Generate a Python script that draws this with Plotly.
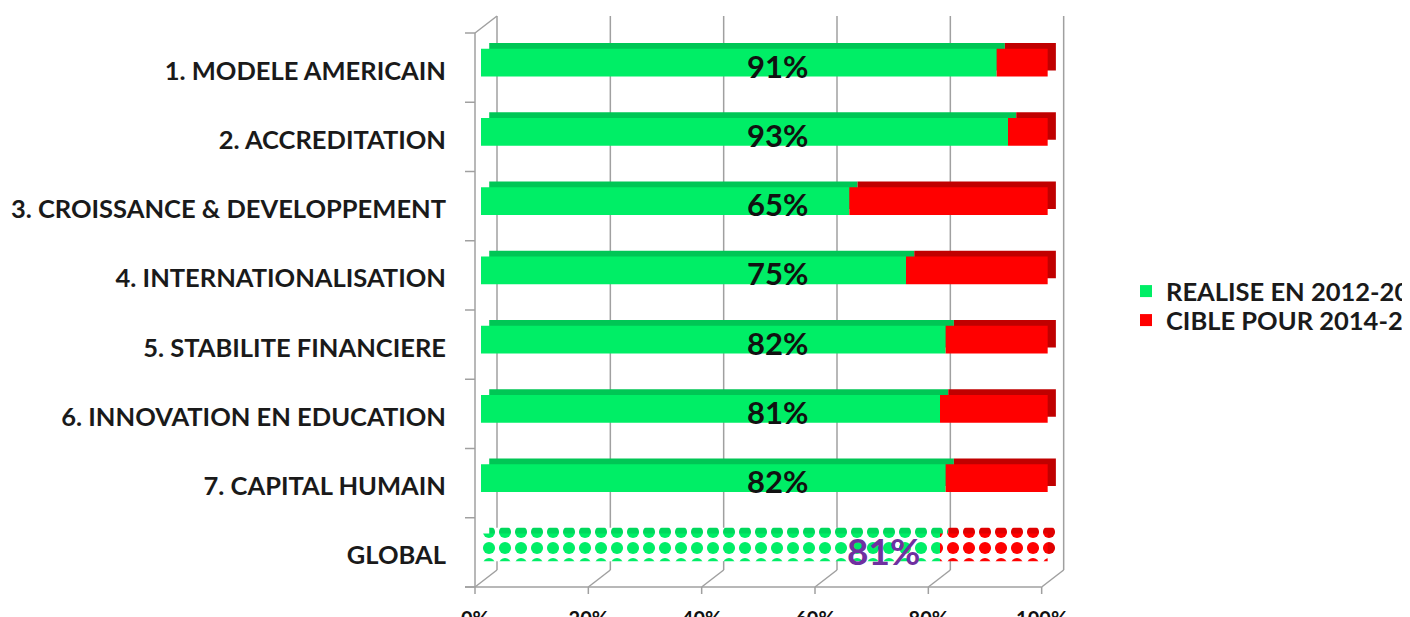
import plotly.graph_objects as go

# ---------------- data ----------------
CATEGORIES = [
    "1. MODELE AMERICAIN",
    "2. ACCREDITATION",
    "3. CROISSANCE & DEVELOPPEMENT",
    "4. INTERNATIONALISATION",
    "5. STABILITE FINANCIERE",
    "6. INNOVATION EN EDUCATION",
    "7. CAPITAL HUMAIN",
    "GLOBAL",
]
REALISE = [91, 93, 65, 75, 82, 81, 82, 81]
CIBLE = [9, 7, 35, 25, 18, 19, 18, 19]
LABELS = ["91%", "93%", "65%", "75%", "82%", "81%", "82%", "81%"]
TICK_VALS = [0, 20, 40, 60, 80, 100]
TICK_TEXT = ["0%", "20%", "40%", "60%", "80%", "100%"]
SERIES_NAMES = ["REALISE EN 2012-2014", "CIBLE POUR 2014-2018"]

# ---------------- style ----------------
PAGE_W, PAGE_H = 1410, 617
OFF = 8                      # default body margin of the html page
W, H = PAGE_W - OFF, PAGE_H - OFF
PL, PR = 481, 1059          # plot area left / right (page px)
PT, PB = 28, 582            # plot area top / bottom (page px)
XMAX = 102
GREEN = "#00EE66"
GREEN_TOP = "#00C655"
RED = "#FF0000"
RED_TOP = "#C00000"
GRID = "#A0A0A0"
FONT = "Lato"
BAR_W = 0.40
DEPTH_X = 1.45              # bar depth (data units) to the right
DEPTH_Y = 0.085             # bar depth (category units) upward
LABEL_X = 52.4
LABEL_X_GLOBAL = 71.0

n = len(CATEGORIES)
is_global = [c == "GLOBAL" for c in CATEGORIES]
pat_shape = ["." if g else "" for g in is_global]


def px_x(px):
    return (px - PL) / (PR - PL)


def px_y(py):
    return (PB - py) / (PB - PT)


def data_px(t):
    return PL + (PR - PL) * t / XMAX


fig = go.Figure()

PAT = dict(size=16, solidity=0.45, bgcolor="white", fgopacity=1)

# back (depth) faces
fig.add_trace(go.Bar(
    y=CATEGORIES, x=REALISE, base=[DEPTH_X] * n, orientation="h",
    width=BAR_W, offset=-BAR_W / 2 - DEPTH_Y,
    marker=dict(color=GREEN_TOP, line=dict(width=0),
                pattern=dict(shape=pat_shape, fgcolor="#00D85C", **PAT)),
    showlegend=False, hoverinfo="skip",
))
fig.add_trace(go.Bar(
    y=CATEGORIES, x=CIBLE, base=[r + DEPTH_X for r in REALISE], orientation="h",
    width=BAR_W, offset=-BAR_W / 2 - DEPTH_Y,
    marker=dict(color=RED_TOP, line=dict(width=0),
                pattern=dict(shape=pat_shape, fgcolor="#E00000", **PAT)),
    showlegend=False, hoverinfo="skip",
))
# front faces
fig.add_trace(go.Bar(
    y=CATEGORIES, x=REALISE, base=[0] * n, orientation="h", name=f"<b>{SERIES_NAMES[0]}</b>",
    width=BAR_W, offset=-BAR_W / 2, legend="legend",
    marker=dict(color=GREEN, line=dict(width=0),
                pattern=dict(shape=pat_shape, fgcolor=GREEN, **PAT)),
))
fig.add_trace(go.Bar(
    y=CATEGORIES, x=CIBLE, base=REALISE, orientation="h", name=f"<b>{SERIES_NAMES[1]}</b>",
    width=BAR_W, offset=-BAR_W / 2, legend="legend2",
    marker=dict(color=RED, line=dict(width=0),
                pattern=dict(shape=pat_shape, fgcolor=RED, **PAT)),
))

# data labels
for cat, lab, g in zip(CATEGORIES, LABELS, is_global):
    fig.add_annotation(
        x=LABEL_X_GLOBAL if g else LABEL_X, y=cat, xref="x", yref="y",
        text=f"<b>{lab}</b>", showarrow=False, yshift=-3,
        font=dict(family=FONT, size=37 if g else 31,
                  color="#7030A0" if g else "#111111"),
    )

# ---------------- 3D frame (axes decorations) ----------------
FRONT_DX, FRONT_DY = -6, 5      # front plane offset (px) from bar faces
BACK_DX, BACK_DY = 16, -12      # back plane offset (px)
line = dict(color=GRID, width=1.5)
shapes = []
front_top, front_bot = PT + FRONT_DY, PB + FRONT_DY
back_top, back_bot = PT + BACK_DY, PB + BACK_DY
for t in TICK_VALS:
    fx = data_px(t) + FRONT_DX
    bx = data_px(t) + BACK_DX
    shapes.append(dict(type="line", xref="paper", yref="paper", layer="below",
                       x0=px_x(bx), x1=px_x(bx), y0=px_y(back_top), y1=px_y(back_bot), line=line))
    shapes.append(dict(type="line", xref="paper", yref="paper", layer="below",
                       x0=px_x(fx), x1=px_x(bx), y0=px_y(front_bot), y1=px_y(back_bot), line=line))
    shapes.append(dict(type="line", xref="paper", yref="paper", layer="below",
                       x0=px_x(fx), x1=px_x(fx), y0=px_y(front_bot), y1=px_y(front_bot + 7), line=line))
lx = data_px(0) + FRONT_DX
rx = data_px(100) + FRONT_DX
shapes.append(dict(type="line", xref="paper", yref="paper", layer="below",
                   x0=px_x(lx - 10), x1=px_x(rx), y0=px_y(front_bot), y1=px_y(front_bot), line=line))
shapes.append(dict(type="line", xref="paper", yref="paper", layer="below",
                   x0=px_x(lx), x1=px_x(lx), y0=px_y(front_top), y1=px_y(front_bot), line=line))
shapes.append(dict(type="line", xref="paper", yref="paper", layer="below",
                   x0=px_x(lx), x1=px_x(data_px(0) + BACK_DX), y0=px_y(front_top), y1=px_y(back_top), line=line))
step = (PB - PT) / n
for k in range(n + 1):
    yy = front_top + k * step
    shapes.append(dict(type="line", xref="paper", yref="paper", layer="below",
                       x0=px_x(lx - 10), x1=px_x(lx), y0=px_y(yy), y1=px_y(yy), line=line))

LEG = dict(xanchor="left", yanchor="top", orientation="v", bgcolor="rgba(0,0,0,0)",
           font=dict(family=FONT, size=25.5, color="#1a1a1a"))

fig.update_layout(
    width=W, height=H,
    barmode="overlay",
    paper_bgcolor="white", plot_bgcolor="rgba(0,0,0,0)",
    margin=dict(l=PL - OFF, r=PAGE_W - PR, t=PT - OFF, b=PAGE_H - PB, autoexpand=False),
    shapes=shapes,
    font=dict(family=FONT, color="#1a1a1a"),
    xaxis=dict(range=[0, XMAX], tickvals=TICK_VALS, ticktext=[f"<b>{t}</b>" for t in TICK_TEXT],
               showgrid=False, zeroline=False, showline=False, ticks="",
               ticklabelshift=-6, ticklabelstandoff=23,
               tickfont=dict(family=FONT, size=20, color="#111111"), fixedrange=True),
    yaxis=dict(type="category", categoryorder="array", categoryarray=CATEGORIES,
               range=[n - 0.5, -0.5], showgrid=False, zeroline=False, showline=False,
               ticks="", tickmode="array", tickvals=CATEGORIES,
               ticktext=[f"<b>{c}</b>" for c in CATEGORIES],
               ticklabelstandoff=34, ticklabelshift=-8,
               tickfont=dict(family=FONT, size=25.5, color="#1a1a1a")),
    legend=dict(x=px_x(1126), y=px_y(268), **LEG),
    legend2=dict(x=px_x(1126), y=px_y(297), **LEG),
    showlegend=True,
)

fig.write_html("out.html")
